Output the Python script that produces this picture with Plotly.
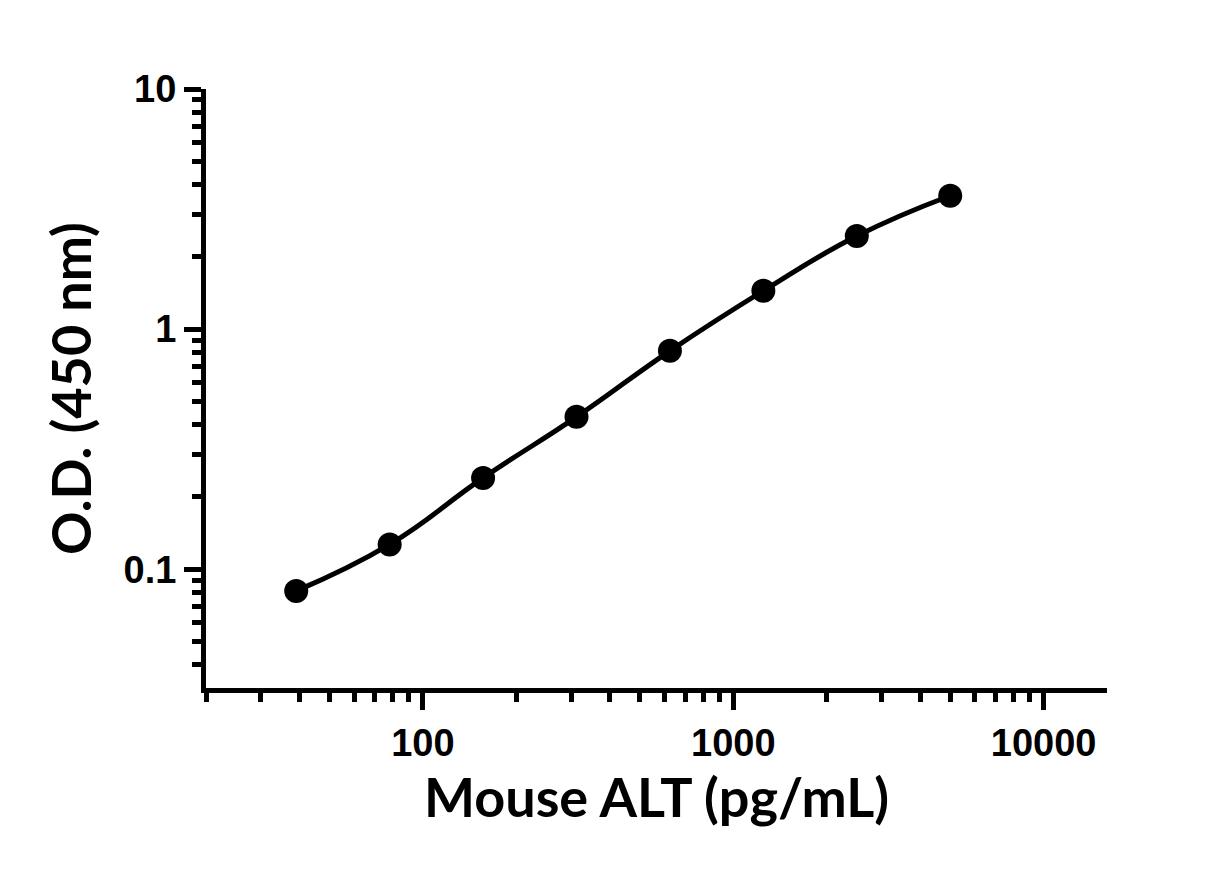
import numpy as np
import plotly.graph_objects as go

# standard curve (2-fold dilutions)
conc = [39.06, 78.13, 156.25, 312.5, 625, 1250, 2500, 5000]
od = [0.0812, 0.1268, 0.240, 0.431, 0.812, 1.444, 2.441, 3.593]

x_major = [100, 1000, 10000]
x_major_text = ["100", "1000", "10000"]
x_minor = [20, 30, 40, 50, 60, 70, 80, 90,
           200, 300, 400, 500, 600, 700, 800, 900,
           2000, 3000, 4000, 5000, 6000, 7000, 8000, 9000]
y_major = [0.1, 1, 10]
y_major_text = ["0.1", "1", "10"]
y_minor = [0.04, 0.05, 0.06, 0.07, 0.08, 0.09,
           0.2, 0.3, 0.4, 0.5, 0.6, 0.7, 0.8, 0.9,
           2, 3, 4, 5, 6, 7, 8, 9]

tick_font = dict(family="Liberation Sans, Arial, sans-serif",
                 size=38, color="black", weight="bold")
title_font = dict(family="Lato, Century Gothic, sans-serif", size=54,
                  color="black", weight="bold")

fig = go.Figure()
fig.add_trace(go.Scatter(
    x=conc, y=od, mode="lines+markers",
    line=dict(color="black", width=5, shape="spline", smoothing=1.3),
    marker=dict(color="black", size=24),
    showlegend=False,
))

axis_common = dict(
    showline=True, linecolor="black", linewidth=5,
    ticks="outside", ticklen=17, tickwidth=5, tickcolor="black",
    showgrid=False, zeroline=False, tickfont=tick_font,
)

fig.update_layout(
    width=1230, height=870,
    paper_bgcolor="white", plot_bgcolor="white",
    margin=dict(l=198, r=131, t=81, b=190),
    xaxis=dict(
        type="log", range=[np.log10(20), np.log10(16000)],
        tickvals=x_major, ticktext=x_major_text,
        minor=dict(tickvals=x_minor, ticks="outside", ticklen=9,
                   tickwidth=5, tickcolor="black", showgrid=False),
        title=dict(text="Mouse ALT (pg/mL)", font=title_font, standoff=10),
        **axis_common,
    ),
    yaxis=dict(
        type="log", range=[np.log10(0.032), 1],
        tickvals=y_major, ticktext=y_major_text,
        minor=dict(tickvals=y_minor, ticks="outside", ticklen=9,
                   tickwidth=5, tickcolor="black", showgrid=False),
        title=dict(text="O.D. (450 nm)", font=title_font, standoff=16),
        **axis_common,
    ),
)

fig.write_html("out.html")
